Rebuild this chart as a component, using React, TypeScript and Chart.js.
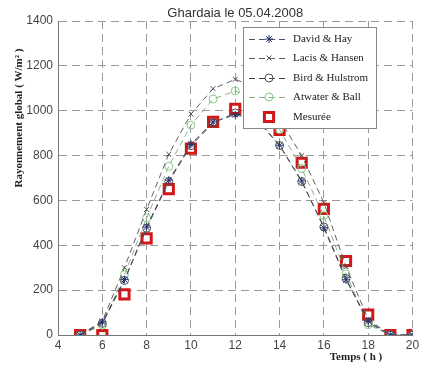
import React, { useEffect, useRef } from "react";
import { Chart, registerables } from "chart.js";
import { drawPoint } from "chart.js/helpers";

Chart.register(...registerables);

const hours = [5, 6, 7, 8, 9, 10, 11, 12, 13, 14, 15, 16, 17, 18, 19, 20];
const davidHay = [0, 58, 247, 481, 690, 850, 950, 982, 960, 846, 687, 478, 246, 62, 0, 0];
const lacisHansen = [0, 62, 300, 560, 806, 985, 1098, 1140, 1100, 962, 800, 590, 305, 70, 0, 0];
const birdHulstrom = [0, 52, 243, 476, 684, 844, 945, 990, 955, 845, 684, 482, 252, 55, 0, 0];
const atwaterBall = [0, 44, 269, 522, 752, 936, 1052, 1088, 1050, 916, 742, 532, 273, 46, 0, 0];
const mesuree = [0, 0, 181, 431, 650, 831, 950, 1008, 985, 914, 768, 562, 330, 91, 0, 0];

const xTicks = [4, 6, 8, 10, 12, 14, 16, 18, 20];
const yTicks = [0, 200, 400, 600, 800, 1000, 1200, 1400];

const titleText = "Ghardaia le 05.04.2008";
const xTitle = "Temps ( h )";
const yTitle = "Rayonnement global ( W/m² )";

const series = [
  { label: "David & Hay", data: davidHay, line: "#4a5068", marker: "#25306e", style: "star", radius: 4, fill: "#25306e", showLine: true },
  { label: "Lacis & Hansen", data: lacisHansen, line: "#606060", marker: "#505050", style: "crossRot", radius: 3.5, fill: "#505050", showLine: true },
  { label: "Bird & Hulstrom", data: birdHulstrom, line: "#404040", marker: "#505050", style: "circle", radius: 4, fill: "rgba(255,255,255,0)", showLine: true },
  { label: "Atwater & Ball", data: atwaterBall, line: "#8ab08a", marker: "#86cc86", style: "circle", radius: 4, fill: "rgba(255,255,255,0)", showLine: true },
  { label: "Mesurée", data: mesuree, line: "#d01818", marker: "#d01818", style: "rect", radius: 6.5, fill: "#ffffff", showLine: false },
];

const overlayPlugin = {
  id: "overlay",
  afterDraw(chart: any) {
    const ctx = chart.ctx;
    const area = chart.chartArea;
    ctx.save();
    // Title
    ctx.fillStyle = "#333";
    ctx.font = "13px 'Liberation Sans', Arial, sans-serif";
    ctx.textAlign = "center";
    ctx.textBaseline = "middle";
    ctx.fillText(titleText, (area.left + area.right) / 2, 13);
    // X title
    ctx.fillStyle = "#222";
    ctx.font = "bold 11px 'Liberation Serif', 'Times New Roman', serif";
    ctx.fillText(xTitle, 356, 357);
    // Y title
    ctx.save();
    ctx.translate(19, 118);
    ctx.rotate(-Math.PI / 2);
    ctx.fillText(yTitle, 0, 0);
    ctx.restore();

    // Legend
    const bx = 243, by = 27, bw = 133, bh = 101;
    ctx.fillStyle = "#ffffff";
    ctx.fillRect(bx, by, bw, bh);
    ctx.strokeStyle = "#888";
    ctx.lineWidth = 1;
    ctx.strokeRect(bx + 0.5, by + 0.5, bw, bh);
    const rowY = [39, 58, 78, 97, 117];
    chart.data.datasets.forEach((ds: any, i: number) => {
      const y = rowY[i];
      const s = series[i];
      if (s.showLine) {
        ctx.save();
        ctx.strokeStyle = s.line;
        ctx.lineWidth = 1;
        ctx.setLineDash([6, 4]);
        ctx.beginPath();
        ctx.moveTo(249, y + 0.5);
        ctx.lineTo(289, y + 0.5);
        ctx.stroke();
        ctx.restore();
      }
      ctx.save();
      ctx.strokeStyle = s.marker;
      ctx.fillStyle = s.fill;
      ctx.lineWidth = s.style === "rect" ? 3 : 1;
      drawPoint(ctx, { pointStyle: s.style, radius: s.radius, rotation: 0, borderWidth: ctx.lineWidth }, 269, y);
      ctx.restore();
      ctx.fillStyle = "#222";
      ctx.font = "11px 'Liberation Serif', 'Times New Roman', serif";
      ctx.textAlign = "left";
      ctx.textBaseline = "middle";
      ctx.fillText(ds.label, 293, y);
    });
    ctx.restore();
  },
};

export default function App() {
  const ref = useRef<HTMLCanvasElement>(null);
  useEffect(() => {
    if (!ref.current) return;
    const chart = new Chart(ref.current, {
      type: "line",
      data: {
        datasets: series.map((s) => ({
          label: s.label,
          data: hours.map((h, i) => ({ x: h, y: s.data[i] })),
          borderColor: s.line,
          borderWidth: 1,
          borderDash: [6, 4],
          showLine: s.showLine,
          fill: false,
          tension: 0,
          pointStyle: s.style as any,
          pointRadius: s.radius,
          pointBorderColor: s.marker,
          pointBackgroundColor: s.fill,
          pointBorderWidth: s.style === "rect" ? 3 : 1,
        })),
      },
      options: {
        animation: false,
        responsive: false,
        layout: { padding: { top: 21, right: 2, left: 0, bottom: 0 } },
        plugins: { legend: { display: false }, title: { display: false }, tooltip: { enabled: false } },
        scales: {
          x: {
            type: "linear",
            min: 4,
            max: 20,
            afterBuildTicks: (scale: any) => {
              scale.ticks = xTicks.map((v) => ({ value: v }));
            },
            afterFit: (scale: any) => {
              scale.height = 30;
              scale.paddingLeft = 0;
              scale.paddingRight = 0;
            },
            ticks: { color: "#444", font: { family: "'Liberation Sans', Arial, sans-serif", size: 12 }, padding: 3, maxRotation: 0, callback: (v: any) => String(v) },
            grid: { color: "#9a9a9a", drawTicks: false, lineWidth: 1 },
            border: { display: true, color: "#777", dash: [8, 5] },
          },
          y: {
            type: "linear",
            min: 0,
            max: 1400,
            afterBuildTicks: (scale: any) => {
              scale.ticks = yTicks.map((v) => ({ value: v }));
            },
            afterFit: (scale: any) => {
              scale.width = 58;
              scale.paddingTop = 0;
              scale.paddingBottom = 0;
            },
            ticks: { color: "#444", font: { family: "'Liberation Sans', Arial, sans-serif", size: 12 }, padding: 5, callback: (v: any) => String(v) },
            grid: { color: "#9a9a9a", drawTicks: false, lineWidth: 1 },
            border: { display: true, color: "#777", dash: [8, 5] },
          },
        },
      },
      plugins: [overlayPlugin],
    });
    return () => chart.destroy();
  }, []);
  return (
    <div style={{ position: "absolute", left: 0, top: 0, width: 422, height: 365, background: "#fff" }}>
      <canvas ref={ref} width={422} height={365} style={{ display: "block" }} />
    </div>
  );
}
